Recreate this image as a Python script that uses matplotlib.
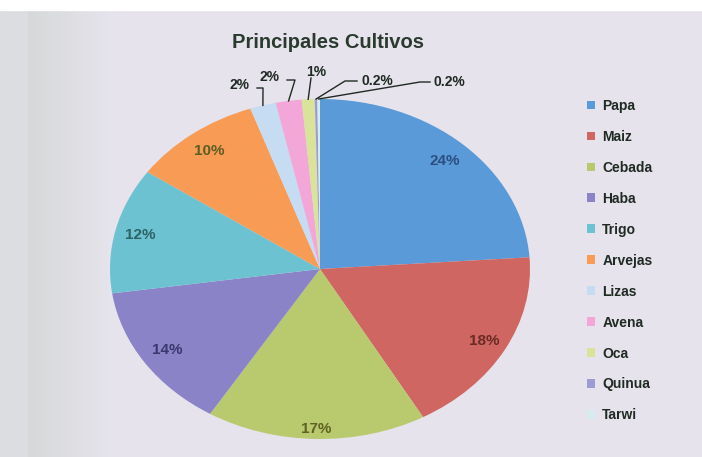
import matplotlib
matplotlib.use("Agg")
import matplotlib.pyplot as plt
import numpy as np

# ---- data ----
categories = ["Papa", "Maiz", "Cebada", "Haba", "Trigo", "Arvejas",
              "Lizas", "Avena", "Oca", "Quinua", "Tarwi"]
values = [24, 18, 17, 14, 12, 10, 2, 2, 1, 0.2, 0.2]
pct_labels = ["24%", "18%", "17%", "14%", "12%", "10%",
              "2%", "2%", "1%", "0.2%", "0.2%"]
title = "Principales Cultivos"

colors = ["#5a9ad8", "#cf6661", "#b9c96e", "#8b83c7", "#6dc2d2", "#f79b55",
          "#c6dcf2", "#f3a6d8", "#d9e39a", "#9e9ad2", "#d6ecef"]
label_colors = ["#2c4f82", "#6b2a26", "#5f6222", "#3b376f", "#2d6365", "#5c5e22"]

W, H = 702, 457
fig = plt.figure(figsize=(W / 100, H / 100), dpi=100)
fig.patch.set_facecolor("#e6e4ed")

# scanner background: white top strip and greyish left edge
bg = fig.add_axes([0, 0, 1, 1], zorder=-10)
bg.set_axis_off()
grad = np.ones((10, 300, 3))
xs = np.linspace(0, 1, 300)
left = np.array([0.86, 0.87, 0.88])
mid = np.array([0.84, 0.85, 0.85])
base = np.array([0.902, 0.894, 0.929])
for i, x in enumerate(xs):
    if x < 0.04:
        c = left
    elif x < 0.16:
        t = (x - 0.04) / 0.12
        c = mid * (1 - t) + base * t
    else:
        c = base
    grad[:, i, :] = c
bg.imshow(grad, aspect="auto", extent=[0, 1, 0, 1])
bg.add_patch(plt.Rectangle((0, 1 - 10 / H), 1, 10 / H, color="white",
                           transform=bg.transAxes))
bg.set_xlim(0, 1)
bg.set_ylim(0, 1)

# pie axes (elliptical, as in the photographed chart)
cx, cy, rx, ry = 320, 269, 210, 170
ax = fig.add_axes([(cx - rx) / W, (H - cy - ry) / H, 2 * rx / W, 2 * ry / H])
ax.set_facecolor("none")
wedges, _ = ax.pie(values, colors=colors, startangle=90, counterclock=False,
                   radius=1.0, wedgeprops=dict(linewidth=0))
ax.set_aspect("auto")
ax.set_xlim(-1, 1)
ax.set_ylim(-1, 1)
ax.axis("off")

# inside labels
label_r = [0.87, 0.89, 0.94, 0.87, 0.88, 0.87]
for i in range(6):
    w = wedges[i]
    th = np.deg2rad((w.theta1 + w.theta2) / 2)
    r = label_r[i]
    ax.text(r * np.cos(th), r * np.sin(th), pct_labels[i], ha="center",
            va="center", fontsize=11, fontweight="bold",
            color=label_colors[i], family="Liberation Sans")


def px(x, y):
    return ((x - cx) / rx, (cy - y) / ry)


# outside labels with leader lines: (text pos), knee points in pixels
outside = {
    6: ((240, 85), [(257, 88), (263, 88)]),
    7: ((270, 77), [(287, 80), (295, 80)]),
    8: ((316, 72), [(311, 78)]),
    9: ((377, 81), [(357, 81), (345, 81)]),
    10: ((449, 82), [(430, 82), (420, 82)]),
}
for i, (tpos, knees) in outside.items():
    w = wedges[i]
    th = np.deg2rad((w.theta1 + w.theta2) / 2)
    end = (np.cos(th), np.sin(th))
    pts = [px(*k) for k in knees] + [end]
    ax.plot([p[0] for p in pts], [p[1] for p in pts], color="#1f2a22",
            lw=1.0, clip_on=False)
    tx, ty = px(*tpos)
    ax.text(tx, ty, pct_labels[i], ha="center", va="center", fontsize=10,
            fontweight="bold", color="#1f2a22", family="Liberation Sans")

fig.text(328 / W, 1 - 43 / H, title, ha="center", va="center", fontsize=14.5,
         fontweight="bold", color="#2a3a2e", family="Liberation Sans")

leg = fig.legend(wedges, categories, loc="upper left",
                 bbox_to_anchor=(580 / W, 1 - 92 / H), frameon=False,
                 handlelength=0.6, handleheight=0.6,
                 handletextpad=0.5, labelspacing=1.22, borderpad=0,
                 prop=dict(family="Liberation Sans", weight="bold", size=10))
for t in leg.get_texts():
    t.set_color("#1f2a22")

fig.savefig("out.png", dpi=100, facecolor=fig.get_facecolor())
